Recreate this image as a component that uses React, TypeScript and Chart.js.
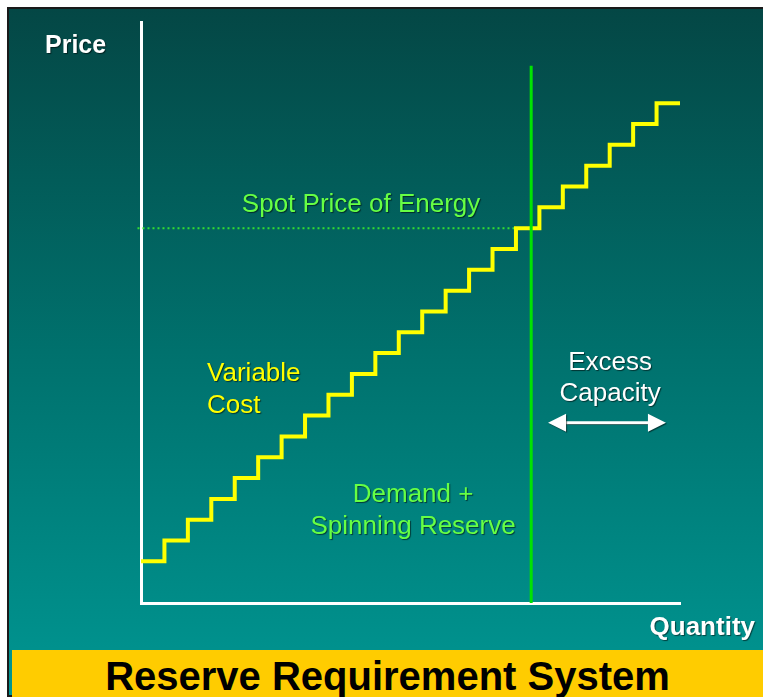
import React, { useEffect, useRef } from "react";
import { Chart, registerables } from "chart.js";

Chart.register(...registerables);

// ---- data ----
const quantities = [0, 1, 2, 3, 4, 5, 6, 7, 8, 9, 10, 11, 12, 13, 14, 15, 16, 17, 18, 19, 20, 21, 22, 23];
const variableCost = [2, 3, 4, 5, 6, 7, 8, 9, 10, 11, 12, 13, 14, 15, 16, 17, 18, 19, 20, 21, 22, 23, 24, 24];
const demandQuantity = [16.65, 16.65];
const demandPrice = [0, 25.8];
const spotQuantity = [-0.15, 16];
const spotPrice = [18, 18];
const excessArrowQuantity = [17.37, 22.4];
const excessArrowPrice = 8.65;

const axisTitles = { y: "Price", x: "Quantity" };
const chartTitle = "Reserve Requirement System";

const FONT = '"Liberation Sans", Arial, Helvetica, sans-serif';

const annotationPlugin = {
  id: "annotations",
  afterDatasetsDraw(chart: any) {
    const { ctx, chartArea } = chart;
    const xs = chart.scales.x;
    const ys = chart.scales.y;
    const px = (v: number) => xs.getPixelForValue(v);
    const py = (v: number) => ys.getPixelForValue(v);
    ctx.save();
    ctx.shadowColor = "rgba(0,0,0,0.55)";
    ctx.shadowOffsetX = 1;
    ctx.shadowOffsetY = 1;
    ctx.shadowBlur = 1;
    ctx.textBaseline = "middle";

    // axis titles
    ctx.fillStyle = "#ffffff";
    ctx.font = `bold 25px ${FONT}`;
    ctx.textAlign = "left";
    ctx.fillText(axisTitles.y, chartArea.left - 96, chartArea.top + 24);
    ctx.font = `bold 26px ${FONT}`;
    ctx.textAlign = "right";
    ctx.fillText(axisTitles.x, chartArea.right + 75, chartArea.bottom + 25);

    // labels
    ctx.font = `26px ${FONT}`;
    ctx.fillStyle = "#66ff44";
    ctx.textAlign = "center";
    ctx.fillText("Spot Price of Energy", px(9.39), py(19.1));
    ctx.fillText("Demand +", px(11.61), py(5.2));
    ctx.fillText("Spinning Reserve", px(11.61), py(3.67));

    ctx.fillStyle = "#ffff00";
    ctx.textAlign = "left";
    ctx.fillText("Variable", px(2.82), py(11.0));
    ctx.fillText("Cost", px(2.82), py(9.46));

    ctx.fillStyle = "#ffffff";
    ctx.textAlign = "center";
    ctx.fillText("Excess", px(20.02), py(11.55));
    ctx.fillText("Capacity", px(20.02), py(10.06));

    // double arrow
    const x1 = px(excessArrowQuantity[0]);
    const x2 = px(excessArrowQuantity[1]);
    const y = py(excessArrowPrice);
    const head = 18;
    const half = 9;
    ctx.strokeStyle = "#ffffff";
    ctx.lineWidth = 3;
    ctx.beginPath();
    ctx.moveTo(x1 + head - 2, y);
    ctx.lineTo(x2 - head + 2, y);
    ctx.stroke();
    ctx.fillStyle = "#ffffff";
    ctx.beginPath();
    ctx.moveTo(x1, y);
    ctx.lineTo(x1 + head, y - half);
    ctx.lineTo(x1 + head, y + half);
    ctx.closePath();
    ctx.fill();
    ctx.beginPath();
    ctx.moveTo(x2, y);
    ctx.lineTo(x2 - head, y - half);
    ctx.lineTo(x2 - head, y + half);
    ctx.closePath();
    ctx.fill();
    ctx.restore();
  },
};

export default function App() {
  const canvasRef = useRef<HTMLCanvasElement | null>(null);

  useEffect(() => {
    if (!canvasRef.current) return;
    const chart = new Chart(canvasRef.current, {
      type: "line",
      data: {
        datasets: [
          {
            label: "Demand + Spinning Reserve",
            data: demandQuantity.map((q, i) => ({ x: q, y: demandPrice[i] })),
            borderColor: "#00e400",
            borderWidth: 3,
            pointRadius: 0,
            order: 1,
          },
          {
            label: "Variable Cost",
            data: quantities.map((q, i) => ({ x: q, y: variableCost[i] })),
            borderColor: "#ffff00",
            borderWidth: 4,
            stepped: "before",
            pointRadius: 0,
            order: 2,
          },
          {
            label: "Spot Price of Energy",
            data: spotQuantity.map((q, i) => ({ x: q, y: spotPrice[i] })),
            borderColor: "#33dd33",
            borderWidth: 2,
            borderDash: [2, 3],
            pointRadius: 0,
            clip: false as any,
            order: 3,
          },
        ],
      },
      options: {
        animation: false,
        responsive: false,
        layout: { padding: { left: 141, top: 22, right: 83, bottom: 94 } },
        plugins: {
          legend: { display: false },
          tooltip: { enabled: false },
          title: { display: false },
        },
        scales: {
          x: {
            type: "linear",
            min: 0,
            max: 23,
            grid: { display: false, drawTicks: false, tickLength: 0 },
            ticks: { display: false },
            border: { display: true, color: "#ffffff", width: 3 },
          },
          y: {
            type: "linear",
            min: 0,
            max: 27.9,
            grid: { display: false, drawTicks: false, tickLength: 0 },
            ticks: { display: false },
            border: { display: true, color: "#ffffff", width: 3 },
          },
        },
      },
      plugins: [annotationPlugin],
    });
    return () => chart.destroy();
  }, []);

  return (
    <div
      style={{
        position: "fixed",
        left: 0,
        top: 0,
        width: 763,
        height: 697,
        background: "#ffffff",
        overflow: "hidden",
      }}
    >
      <div
        style={{
          position: "absolute",
          left: 7,
          top: 7,
          width: 760,
          height: 690,
          boxSizing: "border-box",
          borderLeft: "2px solid #1a1a1a",
          borderTop: "2px solid #1a1a1a",
          borderBottom: "2px solid #1a1a1a",
          background: "linear-gradient(to bottom, #044745 0%, #00716d 50%, #009692 100%)",
        }}
      />
      <canvas
        ref={canvasRef}
        width={763}
        height={697}
        style={{ position: "absolute", left: 0, top: 0, width: 763, height: 697 }}
      />
      <div
        style={{
          position: "absolute",
          left: 12,
          top: 650,
          width: 751,
          height: 47,
          background: "#ffcc00",
          color: "#000000",
          fontFamily: FONT,
          fontWeight: "bold",
          fontSize: 40,
          lineHeight: "53px",
          textAlign: "center",
          whiteSpace: "nowrap",
          overflow: "hidden",
        }}
      >
        {chartTitle}
      </div>
    </div>
  );
}
